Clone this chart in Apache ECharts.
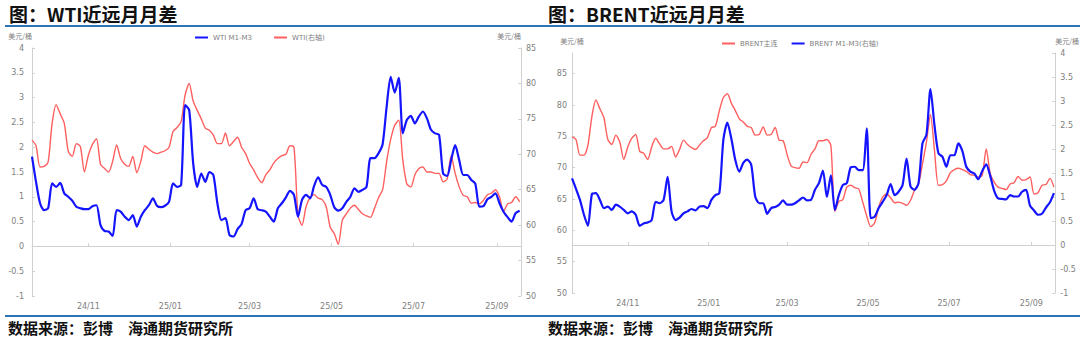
<!DOCTYPE html>
<html>
<head>
<meta charset="utf-8">
<script src="https://cdn.jsdelivr.net/npm/echarts@6/dist/echarts.min.js"></script>
<style>
html,body{margin:0;padding:0;background:#fff;}
#chart{width:1080px;height:342px;}
</style>
</head>
<body>
<div id="chart"></div>
<script>
// ---------- data (sampled every 3 calendar days from startDate) ----------
const startDate = '2024-09-20';
const endDate = '2025-09-19';
const stepDays = 3;

const xTickDates = ['2024-11-01', '2025-01-01', '2025-03-01', '2025-05-01', '2025-07-01', '2025-09-01'];
const xTickLabels = ['24/11', '25/01', '25/03', '25/05', '25/07', '25/09'];

// WTI M1-M3 (left axis, 美元/桶)
const wtiSpread = [
  1.81, 1.30, 0.87, 0.73, 0.77, 1.27, 1.20, 1.28, 1.07, 1.00,
  0.92, 0.80, 0.77, 0.75, 0.75, 0.81, 0.83, 0.43, 0.31, 0.30,
  0.21, 0.73, 0.70, 0.60, 0.53, 0.63, 0.40, 0.60, 0.73, 0.83,
  0.97, 0.82, 0.79, 0.82, 0.90, 1.27, 1.20, 1.24, 2.85, 2.75,
  1.67, 1.20, 1.47, 1.30, 1.50, 1.44, 0.87, 0.53, 0.57, 0.23,
  0.20, 0.35, 0.45, 0.73, 0.77, 0.97, 0.75, 0.73, 0.70, 0.60,
  0.50, 0.77, 0.87, 0.99, 1.12, 1.04, 0.60, 0.94, 1.04, 0.97,
  1.22, 1.39, 1.24, 1.20, 1.04, 0.79, 0.72, 0.77, 0.90, 1.00,
  1.17, 1.10, 1.14, 1.20, 1.78, 1.78, 1.88, 2.06, 2.82, 3.42,
  3.10, 3.40, 2.28, 2.55, 2.63, 2.48, 2.62, 2.72, 2.58, 2.35,
  2.28, 2.25, 1.47, 1.42, 1.74, 2.04, 1.74, 1.44, 1.44, 1.34,
  1.26, 0.80, 0.81, 0.95, 1.00, 1.07, 0.87, 0.70, 0.59, 0.50,
  0.67, 0.72
];
// WTI price (right axis)
const wtiPrice = [
  72.0, 71.2, 68.2, 68.3, 68.9, 74.4, 77.0, 75.7, 74.4, 70.4,
  69.7, 71.5, 71.1, 67.5, 69.9, 71.4, 72.2, 68.6, 68.0, 67.5,
  69.0, 71.3, 69.4, 68.6, 68.3, 69.7, 67.4, 69.0, 71.2, 70.7,
  70.3, 70.1, 70.3, 70.5, 71.0, 73.2, 73.8, 74.6, 78.4, 80.0,
  77.5, 76.2, 75.0, 73.7, 73.4, 72.7, 71.5, 71.5, 73.0, 71.2,
  71.8, 72.4, 71.0, 70.1, 68.7, 67.8, 66.7, 66.0, 67.1, 67.8,
  68.8, 69.4, 69.8, 70.0, 71.2, 71.0, 61.4, 60.0, 62.6, 63.9,
  64.3, 63.8, 63.6, 62.6, 59.7, 58.8, 57.3, 60.7, 61.6, 62.4,
  62.8, 62.2, 61.6, 61.3, 61.1, 62.4, 63.9, 65.0, 69.0, 72.1,
  74.1, 74.8, 69.2, 65.8, 65.4, 67.1, 68.0, 68.2, 67.5, 67.5,
  67.3, 67.3, 66.1, 66.5, 69.8, 67.3, 65.4, 64.2, 64.0, 63.1,
  63.2, 63.0, 63.5, 64.3, 64.5, 65.0, 64.0, 61.9, 63.0, 63.2,
  64.0, 63.3
];
// BRENT price (left axis)
const brentPrice = [
  74.9, 74.5, 72.0, 72.0, 73.6, 78.2, 80.8, 79.4, 78.0, 74.5,
  73.7, 75.2, 74.1, 71.3, 73.3, 74.7, 75.3, 72.6, 72.3, 71.3,
  73.3, 74.7, 73.8, 73.0, 73.0, 73.4, 71.7, 72.9, 74.4, 73.7,
  73.2, 72.9, 73.6, 74.3, 74.8, 76.4, 76.6, 79.1, 81.2, 81.8,
  80.3, 79.1, 77.8, 77.3, 76.6, 76.4, 75.2, 75.3, 76.5, 75.2,
  75.3, 76.4, 74.4, 74.3, 72.1, 70.3, 70.0, 69.9, 70.9, 70.8,
  72.1, 73.0, 74.3, 74.3, 74.5, 73.5, 63.0, 64.6, 64.9, 66.9,
  67.2, 66.8, 66.6, 64.5, 62.3, 60.6, 61.2, 63.7, 65.3, 65.8,
  65.2, 64.4, 64.5, 64.3, 64.0, 64.8, 66.4, 67.4, 70.6, 74.1,
  78.5, 72.8, 67.2, 67.3, 67.9, 69.2, 69.7, 69.9, 69.7, 69.4,
  68.9, 68.8, 68.5, 68.8, 73.0, 69.1, 67.7, 66.9, 66.7, 66.5,
  67.4, 67.6, 68.6, 68.0, 68.1, 68.5, 65.8, 66.0, 67.2, 67.3,
  68.3, 66.9
];
// BRENT M1-M3 (right axis)
const brentSpread = [
  1.39, 1.17, 0.94, 0.63, 0.40, 1.06, 1.08, 0.94, 0.77, 0.80,
  0.73, 0.84, 0.80, 0.73, 0.66, 0.70, 0.63, 0.40, 0.45, 0.47,
  0.52, 0.90, 0.87, 0.94, 1.42, 0.70, 0.52, 0.57, 0.66, 0.70,
  0.75, 0.72, 0.80, 0.81, 0.77, 0.94, 1.04, 1.08, 2.19, 2.55,
  2.22, 1.77, 1.53, 1.71, 1.78, 1.67, 1.01, 0.87, 0.87, 0.65,
  0.77, 0.79, 0.84, 0.93, 0.84, 0.84, 0.87, 0.93, 0.99, 0.93,
  0.94, 1.15, 1.29, 1.55, 1.00, 1.45, 0.73, 1.04, 1.25, 1.29,
  1.62, 1.63, 1.56, 1.56, 2.43, 0.56, 0.59, 0.77, 0.90, 1.04,
  1.27, 1.04, 1.11, 1.25, 1.80, 1.22, 1.15, 1.29, 2.12, 2.30,
  3.25, 2.50, 1.91, 1.84, 1.63, 1.87, 1.87, 2.12, 1.96, 1.63,
  1.53, 1.49, 1.37, 1.54, 1.68, 1.44, 1.13, 0.97, 0.96, 0.95,
  1.04, 1.01, 1.01, 1.11, 1.15, 0.82, 0.72, 0.63, 0.65, 0.78,
  0.89, 1.08
];

// ---------- helpers ----------
const DAY = 86400000;
function toTime(s) { const p = s.split('-').map(Number); return Date.UTC(p[0], p[1] - 1, p[2]); }
const t0 = toTime(startDate);
const tEnd = toTime(endDate);
function series2d(vals) { return vals.map((v, i) => [t0 + i * stepDays * DAY, v]); }
const tickTimes = xTickDates.map(toTime);
function fmtX(v) {
  const idx = tickTimes.indexOf(v);
  if (idx >= 0) return xTickLabels[idx];
  return '';
}

const LABEL_FONT = "'DejaVu Sans', 'Noto Sans CJK SC', sans-serif";
const CJK_FONT = "'Noto Sans CJK SC', sans-serif";
const axisGray = '#d0d0d0';
const labelGray = '#808080';
const BLUE = '#1414ff';
const RED = '#ff5f5f';

function xAxisCfg(gridIndex) {
  return {
    type: 'value', gridIndex: gridIndex, min: t0, max: tEnd,
    axisLine: { lineStyle: { color: axisGray, width: 1 } },
    axisTick: { inside: true, length: 3, lineStyle: { color: axisGray }, customValues: tickTimes },
    axisLabel: { customValues: tickTimes, formatter: fmtX, color: labelGray, fontSize: 8, fontFamily: LABEL_FONT, margin: 6 },
    splitLine: { show: false }
  };
}
function yAxisCfg(gridIndex, pos, min, max, interval, nameAlign, extra) {
  return Object.assign({
    type: 'value', gridIndex: gridIndex, position: pos, min: min, max: max, interval: interval,
    name: '美元/桶', nameLocation: 'end', nameGap: 9,
    nameTextStyle: { color: labelGray, fontSize: 7, fontFamily: CJK_FONT, align: nameAlign },
    axisLine: { show: true, lineStyle: { color: axisGray, width: 1 } },
    axisTick: { show: true, inside: true, length: 3, lineStyle: { color: axisGray } },
    axisLabel: { color: labelGray, fontSize: 8, fontFamily: LABEL_FONT, margin: pos === 'left' ? 8 : 5 },
    splitLine: { show: false }
  }, extra || {});
}

const chart = echarts.init(document.getElementById('chart'), null, { renderer: 'svg', width: 1080, height: 342 });

const legendText = { fontSize: 7, color: labelGray, fontFamily: LABEL_FONT };
const option = {
  backgroundColor: '#ffffff',
  animation: false,
  title: [
    { text: '图：WTI近远月月差', left: 9, top: 4, padding: 0, textStyle: { fontSize: 19, fontWeight: 'bold', color: '#111', fontFamily: CJK_FONT } },
    { text: '图：BRENT近远月月差', left: 548, top: 4, padding: 0, textStyle: { fontSize: 19, fontWeight: 'bold', color: '#111', fontFamily: CJK_FONT } }
  ],
  legend: [
    { data: ['WTI M1-M3', 'WTI(右轴)'], left: 195, top: 34, icon: 'rect', itemWidth: 13, itemHeight: 2, itemGap: 22, padding: 0, textStyle: legendText },
    { data: ['BRENT主连', 'BRENT M1-M3(右轴)'], left: 722, top: 40, icon: 'rect', itemWidth: 13, itemHeight: 2, itemGap: 14, padding: 0, textStyle: legendText }
  ],
  grid: [
    { left: 32, top: 48, width: 489, height: 248 },
    { left: 572, top: 53, width: 489, height: 240 }
  ],
  xAxis: [xAxisCfg(0), xAxisCfg(1)],
  yAxis: [
    yAxisCfg(0, 'left', -1, 4, 0.5, 'right'),
    yAxisCfg(0, 'right', 50, 85, 5, 'right'),
    yAxisCfg(1, 'left', 50, 88.3, 5, 'center', { axisLabel: { color: labelGray, fontSize: 8, fontFamily: LABEL_FONT, margin: 5, showMaxLabel: false } }),
    yAxisCfg(1, 'right', -1, 4, 0.5, 'left')
  ],
  series: [
    { name: 'WTI(右轴)', type: 'line', xAxisIndex: 0, yAxisIndex: 1, data: series2d(wtiPrice), symbol: 'none', smooth: 0.25,
      lineStyle: { color: RED, width: 1.4 }, itemStyle: { color: RED }, z: 2 },
    { name: 'WTI M1-M3', type: 'line', xAxisIndex: 0, yAxisIndex: 0, data: series2d(wtiSpread), symbol: 'none', smooth: 0.25,
      lineStyle: { color: BLUE, width: 2.2 }, itemStyle: { color: BLUE }, z: 3 },
    { name: 'BRENT主连', type: 'line', xAxisIndex: 1, yAxisIndex: 2, data: series2d(brentPrice), symbol: 'none', smooth: 0.25,
      lineStyle: { color: RED, width: 1.4 }, itemStyle: { color: RED }, z: 2 },
    { name: 'BRENT M1-M3(右轴)', type: 'line', xAxisIndex: 1, yAxisIndex: 3, data: series2d(brentSpread), symbol: 'none', smooth: 0.25,
      lineStyle: { color: BLUE, width: 2.2 }, itemStyle: { color: BLUE }, z: 3 }
  ],
  graphic: [
    { type: 'line', shape: { x1: 5, y1: 26, x2: 1080, y2: 26 }, style: { stroke: '#2e75b6', lineWidth: 2 } },
    { type: 'line', shape: { x1: 5, y1: 316, x2: 1080, y2: 316 }, style: { stroke: '#2e75b6', lineWidth: 2 } },
    { type: 'text', left: 8, top: 320, style: { text: '数据来源：彭博\u3000海通期货研究所', font: "bold 15px 'Noto Sans CJK SC', sans-serif", fill: '#111' } },
    { type: 'text', left: 548, top: 320, style: { text: '数据来源：彭博\u3000海通期货研究所', font: "bold 15px 'Noto Sans CJK SC', sans-serif", fill: '#111' } }
  ]
};
chart.setOption(option);
</script>
</body>
</html>
